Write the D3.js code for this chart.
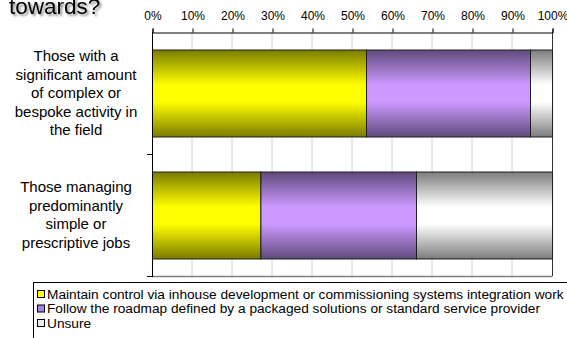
<!DOCTYPE html>
<html>
<head>
<meta charset="utf-8">
<script src="https://cdn.jsdelivr.net/npm/d3@7"></script>
<style>
  html, body { margin: 0; padding: 0; background: #fff; }
  svg { display: block; font-family: "Liberation Sans", Arial, sans-serif; }
</style>
</head>
<body>
<svg id="chart" width="567" height="338"></svg>
<script>
// Respondent groups (label lines as drawn on the left)
const categories = ["complex", "simple"];
const categoryLines = [
  ["Those with a", "significant amount", "of complex or", "bespoke activity in", "the field"],
  ["Those managing", "predominantly", "simple or", "prescriptive jobs"]
];

// Series (percent of respondents)
const seriesNames = [
  "Maintain control via inhouse development or commissioning systems integration work",
  "Follow the roadmap defined by a packaged solutions or standard service provider",
  "Unsure"
];
const inhouse = [53.5, 27.1];
const roadmap = [41.0, 38.9];
const unsure  = [5.5, 34.0];

const tickValues = [0, 10, 20, 30, 40, 50, 60, 70, 80, 90, 100];
const titleText = "towards?";

// Colours: gradient edge / centre, and flat legend swatch
const palette = [
  { edge: "#7a7a00", mid: "#ffff00", swatch: "#ffff00" },
  { edge: "#5e4a7c", mid: "#cc99ff", swatch: "#a383e6" },
  { edge: "#7c7c7c", mid: "#ffffff", swatch: "#ececec" }
];

const svg = d3.select("#chart");
const plot = { left: 152, right: 552, top: 32, bottom: 276 };

const x = d3.scaleLinear().domain([0, 100]).range([plot.left, plot.right]);
const y = d3.scaleBand().domain(categories)
  .range([plot.top, plot.bottom])
  .paddingInner(0.287).paddingOuter(0.1435);

// Vertical gradients for the bars
const defs = svg.append("defs");
palette.forEach((p, i) => {
  const g = defs.append("linearGradient").attr("id", "grad" + i)
    .attr("x1", 0).attr("y1", 0).attr("x2", 0).attr("y2", 1);
  [[0, p.edge], [0.4, p.mid], [0.5, p.mid], [0.6, p.mid], [1, p.edge]].forEach(([o, c]) => {
    g.append("stop").attr("offset", o).attr("stop-color", c);
  });
});
defs.append("filter").attr("id", "shadow")
  .attr("x", "-10%").attr("y", "-30%").attr("width", "130%").attr("height", "180%")
  .append("feDropShadow")
  .attr("dx", 2).attr("dy", 2).attr("stdDeviation", 1.1)
  .attr("flood-color", "#000").attr("flood-opacity", 0.45);

// Title (partly above the top edge), with a soft drop shadow
svg.append("text").attr("x", 9).attr("y", 14)
  .attr("font-size", 22.5).attr("fill", "#000").attr("filter", "url(#shadow)")
  .text(titleText);

// Gridlines
svg.append("g").selectAll("line").data(tickValues.slice(1, -1)).join("line")
  .attr("x1", d => x(d)).attr("x2", d => x(d))
  .attr("y1", plot.top).attr("y2", plot.bottom)
  .attr("stroke", "#d2d2d2").attr("stroke-width", 1);

// Plot frame: right and bottom edges
svg.append("line").attr("x1", plot.left).attr("x2", plot.right + 0.5)
  .attr("y1", plot.bottom + 0.5).attr("y2", plot.bottom + 0.5)
  .attr("stroke", "#7f7f7f").attr("stroke-width", 1.5);
svg.append("line").attr("x1", plot.right + 0.5).attr("x2", plot.right + 0.5)
  .attr("y1", plot.top).attr("y2", plot.bottom)
  .attr("stroke", "#333").attr("stroke-width", 1);

// Stacked bars
const rows = categories.map((c, i) => ({ cat: c, s0: inhouse[i], s1: roadmap[i], s2: unsure[i] }));
const stack = d3.stack().keys(["s0", "s1", "s2"])(rows);
svg.append("g").selectAll("g").data(stack).join("g")
  .attr("fill", (d, i) => "url(#grad" + i + ")")
  .selectAll("rect").data(d => d).join("rect")
  .attr("x", d => x(d[0]) + 0.5)
  .attr("width", d => x(d[1]) - x(d[0]))
  .attr("y", d => y(d.data.cat) + 0.5)
  .attr("height", y.bandwidth())
  .attr("stroke", "#1e1e1e").attr("stroke-width", 1);

// Top percentage axis
const xAxis = svg.append("g").attr("transform", `translate(0.5,${plot.top + 0.5})`)
  .call(d3.axisTop(x).tickValues(tickValues).tickSize(4).tickPadding(9)
    .tickFormat(d => d + "%"));
xAxis.select(".domain").attr("stroke", "#000");
xAxis.selectAll("line").attr("stroke", "#000");
xAxis.selectAll("text").attr("font-size", 12).attr("fill", "#000")
  .attr("font-family", "Liberation Sans, Arial, sans-serif");

// Left category axis line with ticks between groups
svg.append("line").attr("x1", plot.left + 0.5).attr("x2", plot.left + 0.5)
  .attr("y1", plot.top).attr("y2", plot.bottom + 1)
  .attr("stroke", "#000");
const sep = [(y("complex") + y.bandwidth() + y("simple")) / 2, plot.bottom];
svg.append("g").selectAll("line").data(sep).join("line")
  .attr("x1", plot.left - 5).attr("x2", plot.left)
  .attr("y1", d => Math.round(d) + 0.5).attr("y2", d => Math.round(d) + 0.5)
  .attr("stroke", "#000");

// Category labels
const lineH = 18.5;
categories.forEach((c, i) => {
  const lines = categoryLines[i];
  const cy = y(c) + y.bandwidth() / 2;
  const t = svg.append("text").attr("text-anchor", "middle")
    .attr("font-size", 15).attr("fill", "#000");
  lines.forEach((ln, j) => {
    t.append("tspan").attr("x", 76)
      .attr("y", cy + (j - (lines.length - 1) / 2) * lineH + 5)
      .text(ln);
  });
});

// Legend
const lg = svg.append("g");
lg.append("rect").attr("x", 33.5).attr("y", 282.5).attr("width", 600).attr("height", 80)
  .attr("fill", "#fff").attr("stroke", "#000");
const rowY = [294, 308.5, 323];
seriesNames.forEach((name, i) => {
  lg.append("rect").attr("x", 37.5).attr("y", rowY[i] - 3.5).attr("width", 7).attr("height", 7)
    .attr("fill", palette[i].swatch).attr("stroke", "#000");
  lg.append("text").attr("x", 47).attr("y", rowY[i] + 4.5)
    .attr("font-size", 13.7).attr("fill", "#000").text(name);
});
</script>
</body>
</html>
